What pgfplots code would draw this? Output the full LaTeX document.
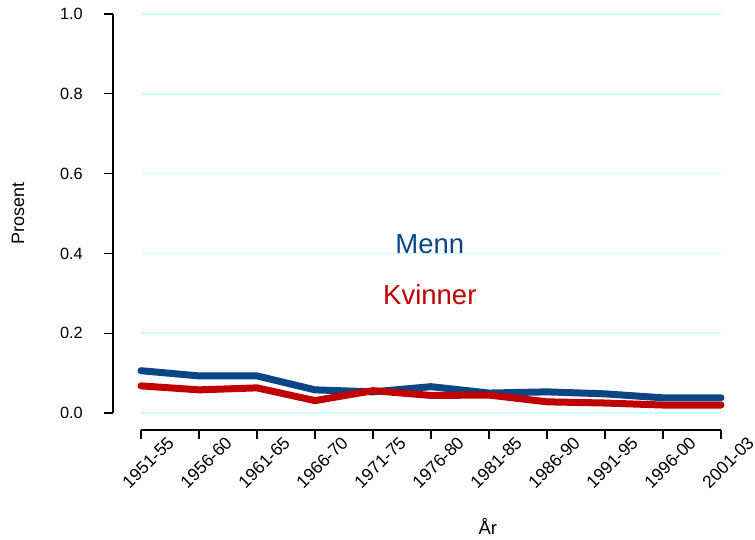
\documentclass[border=0pt]{standalone}
\usepackage{pgfplots}
\pgfplotsset{compat=1.18}
\usepackage{fontspec}
\setmainfont{Liberation Sans}
\definecolor{menn}{HTML}{0B4584}
\definecolor{kvinner}{HTML}{C00000}
\definecolor{gridc}{HTML}{CCFFFF}
\begin{document}
\begin{tikzpicture}[x=1pt,y=1pt]
\useasboundingbox (-141pt,-126pt) rectangle (614pt,413pt);
% y axis drawn on its own, 28pt left of the plot area
\begin{axis}[
  at={(-28pt,0)}, anchor=south west,
  scale only axis, width=580pt, height=399pt,
  xmin=0, xmax=10, ymin=0, ymax=1,
  axis x line=none, axis y line*=left,
  axis line style={line width=1.1pt, -},
  xtick=\empty,
  ytick={0,0.2,0.4,0.6,0.8,1.0},
  yticklabels={},
  tick style={line width=1.1pt, black},
  major tick length=9pt,
  tick align=outside,
]
\end{axis}
\begin{axis}[
  at={(0,0)}, anchor=south west,
  scale only axis, width=580pt, height=399pt,
  xmin=0, xmax=10, ymin=0, ymax=1,
  axis x line*=bottom, axis y line*=left,
  axis x line shift=17pt,
  axis line style={line width=1.1pt, -},
  y axis line style={draw=none},
  xtick={0,...,10},
  xticklabels={1951-55,1956-60,1961-65,1966-70,1971-75,1976-80,1981-85,1986-90,1991-95,1996-00,2001-03},
  ytick={0,0.2,0.4,0.6,0.8,1.0},
  yticklabel=\empty,
  tick style={line width=1.1pt, black},
  y tick style={draw=none},
  major tick length=9pt,
  tick align=outside,
  x tick label style={font=\fontsize{17.5}{20}\selectfont, rotate=45, anchor=north east, xshift=24pt, yshift=-12pt},
  ymajorgrids, grid style={gridc, line width=1.5pt},
  clip=false,
]
\addplot[menn, line width=7pt, line join=round, line cap=round] coordinates {
(0,0.106) (1,0.093) (2,0.093) (3,0.058) (4,0.053) (5,0.066) (6,0.050) (7,0.053) (8,0.048) (9,0.038) (10,0.038)};
\addplot[kvinner, line width=7pt, line join=round, line cap=round] coordinates {
(0,0.068) (1,0.058) (2,0.063) (3,0.031) (4,0.056) (5,0.044) (6,0.045) (7,0.028) (8,0.025) (9,0.020) (10,0.020)};
\foreach \v/\t in {0/0.0,0.2/0.2,0.4/0.4,0.6/0.6,0.8/0.8,1.0/1.0}{
  \edef\temp{\noexpand\node[font=\noexpand\fontsize{16.3}{19}\noexpand\selectfont, anchor=east, inner sep=0pt] at (axis cs:-1.0,\v) {\t};}
  \temp
}
\node[menn, font=\fontsize{27.5}{32}\selectfont, anchor=base] at (axis cs:4.98,0.399) {Menn};
\node[kvinner, font=\fontsize{27.5}{32}\selectfont, anchor=base] at (axis cs:4.98,0.271) {Kvinner};
\node[font=\fontsize{18}{21}\selectfont, rotate=90] at (axis cs:-2.12,0.5) {Prosent};
\node[font=\fontsize{18.5}{21}\selectfont] at (axis cs:5.98,-0.285) {År};
\end{axis}
\end{tikzpicture}
\end{document}
